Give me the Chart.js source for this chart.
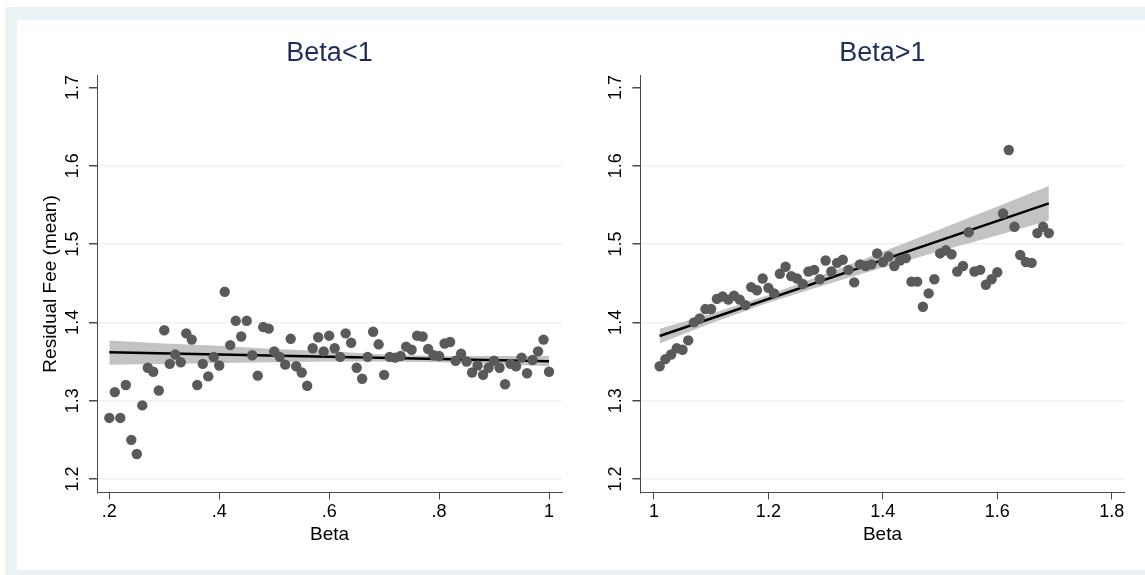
<!DOCTYPE html>
<html>
<head>
<meta charset="utf-8">
<script src="https://cdn.jsdelivr.net/npm/chart.js@4/dist/chart.umd.min.js"></script>
<style>
  body { margin: 0; background: #fff; width: 1145px; height: 575px; overflow: hidden; position: relative; }
  #frame { position: absolute; left: 5px; top: 7px; width: 1140px; height: 568px; background: #eaf2f3; }
  #inner { position: absolute; left: 17px; top: 20px; width: 1128px; height: 550px; background: #fff; }
  canvas { position: absolute; top: 20px; }
  #left { left: 17px; }
  #right { left: 570px; }
</style>
</head>
<body>
<div id="frame"></div>
<div id="inner"></div>
<canvas id="left" width="553" height="550"></canvas>
<canvas id="right" width="575" height="550"></canvas>
<script>
// Residual fee vs beta, two panels (Beta<1, Beta>1)

const leftBeta = [
  0.20, 0.21, 0.22, 0.23, 0.24, 0.25, 0.26, 0.27, 0.28, 0.29,
  0.30, 0.31, 0.32, 0.33, 0.34, 0.35, 0.36, 0.37, 0.38, 0.39,
  0.40, 0.41, 0.42, 0.43, 0.44, 0.45, 0.46, 0.47, 0.48, 0.49,
  0.50, 0.51, 0.52, 0.53, 0.54, 0.55, 0.56, 0.57, 0.58, 0.59,
  0.60, 0.61, 0.62, 0.63, 0.64, 0.65, 0.66, 0.67, 0.68, 0.69,
  0.70, 0.71, 0.72, 0.73, 0.74, 0.75, 0.76, 0.77, 0.78, 0.79,
  0.80, 0.81, 0.82, 0.83, 0.84, 0.85, 0.86, 0.87, 0.88, 0.89,
  0.90, 0.91, 0.92, 0.93, 0.94, 0.95, 0.96, 0.97, 0.98, 0.99,
  1.00
];
const leftFee = [
  1.278, 1.311, 1.278, 1.320, 1.250, 1.232, 1.294, 1.342, 1.337, 1.313,
  1.390, 1.347, 1.359, 1.349, 1.386, 1.378, 1.320, 1.347, 1.331, 1.356,
  1.345, 1.439, 1.371, 1.402, 1.382, 1.402, 1.358, 1.332, 1.394, 1.392,
  1.363, 1.356, 1.346, 1.379, 1.344, 1.336, 1.319, 1.367, 1.381, 1.363,
  1.383, 1.367, 1.356, 1.386, 1.374, 1.342, 1.328, 1.356, 1.388, 1.372,
  1.333, 1.356, 1.355, 1.357, 1.369, 1.365, 1.383, 1.382, 1.366, 1.358,
  1.357, 1.373, 1.375, 1.351, 1.360, 1.350, 1.336, 1.345, 1.333, 1.342,
  1.351, 1.342, 1.321, 1.347, 1.344, 1.355, 1.335, 1.352, 1.363, 1.378,
  1.337
];
const leftFitX = [0.2, 1.0];
const leftFitY = [1.3617, 1.3505];
const leftBandX = [0.2, 0.3, 0.4, 0.5, 0.6, 0.7, 0.8, 0.9, 1.0];
const leftBandHi = [1.377, 1.373, 1.370, 1.366, 1.363, 1.359, 1.357, 1.357, 1.357];
const leftBandLo = [1.346, 1.347, 1.348, 1.349, 1.350, 1.350, 1.349, 1.347, 1.344];
const leftXTicks = [0.2, 0.4, 0.6, 0.8, 1.0];
const leftXTickLabels = ['.2', '.4', '.6', '.8', '1'];

const rightBeta = [
  1.01, 1.02, 1.03, 1.04, 1.05, 1.06, 1.07, 1.08, 1.09, 1.10,
  1.11, 1.12, 1.13, 1.14, 1.15, 1.16, 1.17, 1.18, 1.19, 1.20,
  1.21, 1.22, 1.23, 1.24, 1.25, 1.26, 1.27, 1.28, 1.29, 1.30,
  1.31, 1.32, 1.33, 1.34, 1.35, 1.36, 1.37, 1.38, 1.39, 1.40,
  1.41, 1.42, 1.43, 1.44, 1.45, 1.46, 1.47, 1.48, 1.49, 1.50,
  1.51, 1.52, 1.53, 1.54, 1.55, 1.56, 1.57, 1.58, 1.59, 1.60,
  1.61, 1.62, 1.63, 1.64, 1.65, 1.66, 1.67, 1.68, 1.69
];
const rightFee = [
  1.344, 1.353, 1.359, 1.367, 1.365, 1.377, 1.400, 1.405, 1.417, 1.417,
  1.430, 1.433, 1.429, 1.434, 1.429, 1.422, 1.445, 1.441, 1.456, 1.444,
  1.437, 1.462, 1.471, 1.459, 1.456, 1.449, 1.465, 1.467, 1.455, 1.479,
  1.465, 1.476, 1.480, 1.467, 1.451, 1.474, 1.472, 1.474, 1.488, 1.477,
  1.484, 1.472, 1.479, 1.482, 1.452, 1.452, 1.420, 1.437, 1.455, 1.488,
  1.492, 1.487, 1.465, 1.472, 1.515, 1.465, 1.467, 1.448, 1.455, 1.464,
  1.539, 1.620, 1.522, 1.486, 1.477, 1.476, 1.514, 1.522, 1.514
];
const rightFitX = [1.01, 1.69];
const rightFitY = [1.3826, 1.552];
const rightBandX = [1.01, 1.1, 1.2, 1.3, 1.4, 1.5, 1.6, 1.69];
const rightBandHi = [1.392, 1.411, 1.435, 1.462, 1.490, 1.519, 1.548, 1.574];
const rightBandLo = [1.373, 1.399, 1.425, 1.448, 1.470, 1.491, 1.511, 1.530];
const rightXTicks = [1.0, 1.2, 1.4, 1.6, 1.8];
const rightXTickLabels = ['1', '1.2', '1.4', '1.6', '1.8'];

const yTicks = [1.2, 1.3, 1.4, 1.5, 1.6, 1.7];
const yTickLabels = ['1.2', '1.3', '1.4', '1.5', '1.6', '1.7'];

const FONT = '"Liberation Sans", Arial, Helvetica, sans-serif';
const GRID = '#eaf2f3';
const AXIS = '#4a4a4a';

Chart.defaults.font.family = FONT;
Chart.defaults.color = '#000';

const pts = (xs, ys) => xs.map((x, i) => ({ x: x, y: ys[i] }));

// Stata-style vertical tick labels on the y axis
const rotatedYLabels = {
  id: 'rotatedYLabels',
  afterDraw(chart) {
    const { ctx, chartArea } = chart;
    const y = chart.scales.y;
    ctx.save();
    ctx.font = '18px ' + FONT;
    ctx.fillStyle = '#000';
    ctx.textAlign = 'center';
    ctx.textBaseline = 'middle';
    yTicks.forEach((v, i) => {
      ctx.save();
      ctx.translate(chartArea.left - 24, y.getPixelForValue(v));
      ctx.rotate(-Math.PI / 2);
      ctx.fillText(yTickLabels[i], 0, 0);
      ctx.restore();
    });
    ctx.restore();
  }
};

function makePanel(id, opts) {
  return new Chart(document.getElementById(id), {
    type: 'scatter',
    data: {
      datasets: [
        {
          data: pts(opts.beta, opts.fee),
          backgroundColor: '#5a5a5a',
          borderWidth: 0,
          pointRadius: 5.2
        },
        {
          data: pts(opts.fitX, opts.fitY),
          showLine: true,
          borderColor: '#000',
          borderWidth: 2.5,
          pointRadius: 0
        },
        {
          data: pts(opts.bandX, opts.bandHi),
          showLine: true,
          borderWidth: 0,
          pointRadius: 0,
          backgroundColor: '#c3c3c3',
          fill: '+1'
        },
        {
          data: pts(opts.bandX, opts.bandLo),
          showLine: true,
          borderWidth: 0,
          pointRadius: 0
        }
      ]
    },
    options: {
      responsive: false,
      animation: false,
      devicePixelRatio: 1,
      layout: { padding: { left: 0, right: opts.padRight, top: 0, bottom: 0 } },
      plugins: {
        legend: { display: false },
        tooltip: { enabled: false },
        title: {
          display: true,
          text: opts.title,
          fullSize: false,
          color: '#1e2d5c',
          font: { size: 27, weight: 'normal' },
          padding: { top: 17, bottom: 6 }
        }
      },
      scales: {
        x: {
          type: 'linear',
          min: opts.xMin,
          max: opts.xMax,
          afterBuildTicks: (s) => { s.ticks = opts.xTicks.map(v => ({ value: v })); },
          afterFit: (s) => { s.height = 77.5; },
          border: { display: true, color: AXIS, width: 1 },
          grid: { drawOnChartArea: false, drawTicks: true, tickLength: 7, tickColor: AXIS },
          ticks: {
            font: { size: 18 },
            color: '#000',
            padding: 2,
            maxRotation: 0,
            callback: (v) => {
              const i = opts.xTicks.findIndex(t => Math.abs(t - v) < 1e-9);
              return i >= 0 ? opts.xTickLabels[i] : '';
            }
          },
          title: {
            display: true,
            text: 'Beta',
            color: '#000',
            font: { size: 19 },
            padding: { top: 0, bottom: 24 }
          }
        },
        y: {
          type: 'linear',
          min: 1.1828,
          max: 1.7153,
          afterBuildTicks: (s) => { s.ticks = yTicks.map(v => ({ value: v })); },
          afterFit: (s) => { s.width = opts.yWidth; },
          border: { display: true, color: AXIS, width: 1 },
          grid: {
            color: (c) => (c.tick && c.tick.value > 1.65 ? 'rgba(0,0,0,0)' : GRID),
            lineWidth: 1.5,
            drawTicks: true,
            tickLength: 8,
            tickColor: AXIS
          },
          ticks: { display: false },
          title: {
            display: !!opts.yTitle,
            text: opts.yTitle || '',
            color: '#000',
            font: { size: 19 },
            padding: { top: 22, bottom: 0 }
          }
        }
      }
    },
    plugins: [rotatedYLabels]
  });
}

makePanel('left', {
  title: 'Beta<1',
  beta: leftBeta, fee: leftFee,
  fitX: leftFitX, fitY: leftFitY,
  bandX: leftBandX, bandHi: leftBandHi, bandLo: leftBandLo,
  xTicks: leftXTicks, xTickLabels: leftXTickLabels,
  xMin: 0.1776, xMax: 1.0236,
  yWidth: 80, padRight: 8,
  yTitle: 'Residual Fee (mean)'
});

makePanel('right', {
  title: 'Beta>1',
  beta: rightBeta, fee: rightFee,
  fitX: rightFitX, fitY: rightFitY,
  bandX: rightBandX, bandHi: rightBandHi, bandLo: rightBandLo,
  xTicks: rightXTicks, xTickLabels: rightXTickLabels,
  xMin: 0.9764, xMax: 1.8222,
  yWidth: 70.4, padRight: 20.5,
  yTitle: ''
});
</script>
</body>
</html>
